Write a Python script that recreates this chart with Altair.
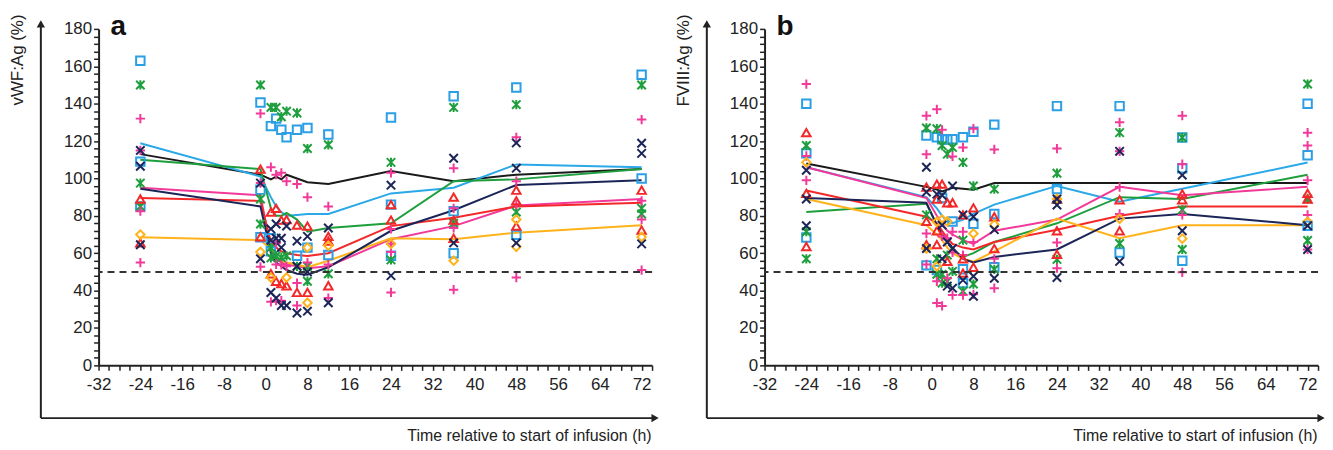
import altair as alt
import pandas as pd

# ---------------- data ----------------
TIMES = [-24, -1, 1, 2, 3, 4, 6, 8, 12, 24, 36, 48, 72]

# panel a: vWF:Ag lines
A_BLACK = [113, 102, 99.5, 101, 99.5, 102, 100, 98, 97, 104, 98.5, 102, 105]
A_CYAN = [118.8, 101, 90, 85, 82, 80, 80.5, 81, 81, 92, 95, 107.5, 106]
A_GREEN = [110, 105, 84, 80, 80, 81.5, 78, 71.5, 73.5, 76, 98.5, 99.5, 105]
A_MAGENTA = [95, 91, 62, 57, 55, 54, 53, 52, 53, 67.5, 74.5, 85.5, 89]
A_RED = [89.5, 88, 66, 63, 61, 60, 59, 58.5, 60, 74.5, 79, 85, 87]
A_ORANGE = [68.5, 67, 62, 58, 56, 55, 54, 52.5, 56, 68, 67.5, 71, 75]
A_NAVY = [94.5, 85, 60, 55, 53, 51, 49, 48.5, 52.5, 72, 83, 96.5, 99]

# panel b: FVIII:Ag lines
B_BLACK = [108, 95.5, 94, 93, 94, 95, 94.5, 94, 97.5, 97.5, 97.5, 97.5, 97.5]
B_CYAN = [106, 90, 84, 80, 77, 76, 78, 81, 86, 96, 87.5, 94.5, 108.5]
B_GREEN = [82, 86.5, 75, 70, 66, 62, 58, 60, 66, 76, 90, 89, 102]
B_MAGENTA = [106, 89.5, 80, 76, 72, 70, 67, 65, 72, 78, 95.5, 91, 95.5]
B_RED = [93.5, 79.5, 76, 72, 68, 65, 63, 62, 66, 72.5, 80, 85, 85]
B_ORANGE = [89, 75, 70, 67, 63, 60, 57, 55.5, 61, 78.5, 68, 75, 75]
B_NAVY = [89.5, 87, 75, 70, 66, 63, 57, 55, 58, 62, 78.5, 81, 75]

# panel a: individual measurements (time h, value %)
A_SQUARE = [(-24, 163), (-24, 109), (-24, 85), (-1, 140.6), (-1, 94), (-1, 68.5),
            (1, 128), (2, 132), (3, 126), (4, 122), (6, 126), (8, 127), (12, 123.5),
            (1, 68), (1, 61), (6, 58.6), (8, 63), (12, 59),
            (24, 132.6), (24, 86), (24, 58.6), (36, 144), (36, 82.5), (36, 60),
            (48, 148.6), (48, 69.8), (72, 155.5), (72, 100)]
A_STAR = [(-24, 150), (-24, 97.5), (-24, 85), (-1, 150), (-1, 89), (-1, 75.6),
          (1, 138), (2, 138), (3, 133), (4, 136), (6, 135), (8, 116), (12, 118),
          (1, 63), (1, 57.5), (2, 58.6), (3, 57.6), (4, 58.6), (6, 53), (8, 53), (8, 45), (12, 49),
          (24, 108.6), (24, 56.4), (36, 138), (36, 76), (48, 139.5), (48, 82),
          (72, 150), (72, 84), (72, 81)]
A_PLUS = [(-24, 132), (-24, 115), (-24, 82.5), (-24, 55), (-1, 134.7), (-1, 97.5), (-1, 52.7),
          (1, 106), (2, 102), (3, 103), (4, 98.5), (6, 97), (8, 90), (12, 85),
          (1, 34), (2, 65.5), (2, 54), (2, 34.6), (3, 53.8), (3, 34.6), (4, 53), (6, 44), (6, 32),
          (8, 55), (12, 54), (12, 36),
          (24, 103), (24, 73), (24, 65), (24, 60.7), (24, 39), (36, 105.5), (36, 84), (36, 73.5),
          (36, 40.5), (48, 122), (48, 98.5), (48, 86), (48, 47), (72, 131.5), (72, 88), (72, 78), (72, 51)]
A_TRIANGLE = [(-24, 89), (-24, 65.5), (-1, 105), (-1, 68.7),
              (1, 82), (1, 49), (2, 84), (2, 45), (3, 77.7), (3, 43.7), (4, 78), (4, 42.6),
              (6, 75), (6, 39), (8, 74.5), (8, 39), (12, 69), (12, 66.5), (12, 42.6),
              (24, 86), (24, 77.7), (36, 90), (36, 77.7), (36, 68), (48, 93.7), (48, 88), (48, 74.5),
              (72, 93.7), (72, 72.4)]
A_DIAMOND = [(-24, 70), (-1, 60.7), (1, 47), (4, 47), (8, 63), (8, 33.5), (12, 64), (24, 65),
             (36, 56), (48, 78), (48, 63.4), (72, 68.7)]
A_X = [(-24, 115), (-24, 106.5), (-24, 64.5), (-1, 97.5), (-1, 57),
       (1, 73), (1, 67), (1, 39), (2, 75.6), (2, 68), (2, 36), (3, 68), (3, 63), (3, 32),
       (4, 74.5), (4, 32), (6, 66.5), (6, 53), (6, 28), (8, 69), (8, 50), (8, 29), (12, 73.5), (12, 33.5),
       (24, 96.4), (24, 48), (36, 110.8), (36, 65.5), (48, 119), (48, 105.5), (48, 65.5),
       (72, 118.8), (72, 113.4), (72, 65)]

# panel b: individual measurements
B_SQUARE = [(-24, 140), (-24, 113.4), (-24, 68.4), (-1, 123), (-1, 53.5),
            (1, 122), (2, 121), (3, 120.8), (4, 121), (6, 122), (8, 125), (12, 128.8),
            (1, 51), (2, 89.5), (4, 77), (6, 51.4), (6, 44), (8, 75.8), (12, 81), (12, 52.5),
            (24, 138.7), (24, 94.3), (36, 138.7), (36, 60.4), (48, 121.9), (48, 105.5), (48, 56),
            (72, 140), (72, 112.4), (72, 74.7)]
B_STAR = [(-24, 117.6), (-24, 71.5), (-24, 57), (-1, 127), (-1, 80.5),
          (1, 126.6), (2, 117.6), (3, 113), (4, 116.6), (6, 108.6), (8, 96),
          (1, 57), (1, 48.7), (2, 48.7), (2, 44), (3, 59), (3, 45), (4, 50.3), (6, 67), (6, 39.7),
          (8, 43.5), (12, 94.3), (12, 51.4),
          (24, 102.8), (24, 56.7), (36, 124.5), (36, 65.2), (48, 121.9), (48, 83.2), (48, 62),
          (72, 150.5), (72, 89), (72, 66.8)]
B_PLUS = [(-24, 150.5), (-24, 112), (-24, 99), (-1, 133.5), (-1, 112.9), (-1, 70.5), (-1, 54),
          (1, 137), (2, 126), (4, 111.8), (6, 116.6), (8, 126.6), (12, 115.5),
          (1, 45), (1, 33.4), (2, 69), (2, 31.8), (3, 68), (3, 46.6), (4, 71.5), (4, 60.4), (4, 37.6),
          (6, 71.5), (6, 59), (6, 37.6), (8, 66), (8, 38), (12, 57), (12, 41.3),
          (24, 116), (24, 65.7), (24, 52), (36, 130), (36, 114.5), (36, 95.4), (36, 81),
          (48, 133.6), (48, 107.6), (48, 80.5), (48, 49.8),
          (72, 124.5), (72, 117.6), (72, 99), (72, 80.5), (72, 62)]
B_TRIANGLE = [(-24, 124.5), (-24, 92), (-24, 63.6), (-1, 95.4), (-1, 77), (-1, 64.6),
              (1, 97), (1, 89), (1, 72), (1, 64.6), (2, 97), (3, 87), (3, 55.6), (4, 87),
              (6, 80.5), (6, 57), (6, 49.3), (8, 84.3), (8, 52.5), (12, 79.5), (12, 62.5),
              (24, 89), (24, 72), (24, 59.4), (36, 88.5), (36, 72), (48, 91.7), (48, 88.5),
              (72, 92), (72, 89)]
B_DIAMOND = [(-24, 108.6), (-1, 62.5), (1, 76.8), (1, 53), (2, 78), (3, 77), (8, 70.5),
             (12, 75.3), (24, 89), (36, 78.4), (48, 67.8), (72, 76.8)]
B_X = [(-24, 104.4), (-24, 89), (-24, 74.7), (-1, 106), (-1, 92.7), (-1, 62.5),
       (1, 91.6), (2, 91), (2, 75), (2, 57), (3, 66), (3, 42.4), (4, 96), (4, 62.5), (4, 41.3),
       (6, 80.5), (6, 45.6), (8, 79.5), (8, 47.7), (8, 37), (12, 72.6), (12, 46.6),
       (24, 89), (24, 85.8), (24, 47), (36, 114.5), (36, 55.6), (48, 101.8), (48, 72),
       (72, 74.7), (72, 62)]

THRESHOLD = [50]
X_DOMAIN = [-32, 74]
Y_DOMAIN = [0, 180]

# ---------------- styles ----------------
LINE_COLORS = {"black": "#1a1a1a", "cyan": "#2AA8E8", "green": "#1E9E3C",
               "magenta": "#F2399A", "red": "#F42828", "orange": "#FFB21A", "navy": "#1C2557"}
SYMBOLS = {
    "square": ("square", "#2A9FE6"),
    "star": ("M-1,-1L1,1M-1,1L1,-1M0,-1.1L0,1.1", "#1E9E3C"),
    "plus": ("M-1.1,0L1.1,0M0,-1.1L0,1.1", "#F2399A"),
    "triangle": ("triangle-up", "#F42828"),
    "diamond": ("diamond", "#FFB21A"),
    "x": ("M-1,-1L1,1M-1,1L1,-1", "#1C2557"),
}
W, H = 556, 338
FONT = "Liberation Sans"
INK = "#222222"


def build_lines(series):
    rows = []
    for name, vals in series.items():
        for t, v in zip(TIMES, vals):
            rows.append({"series": name, "t": t, "v": v, "color": LINE_COLORS[name]})
    return pd.DataFrame(rows)


def build_points(groups):
    rows = []
    for name, pts in groups.items():
        shape, color = SYMBOLS[name]
        for t, v in pts:
            rows.append({"sym": name, "t": t, "v": v, "shape": shape, "color": color})
    return pd.DataFrame(rows)


def panel(letter, ytitle, series, groups):
    xs = alt.Scale(domain=X_DOMAIN, nice=False, zero=False)
    ys = alt.Scale(domain=Y_DOMAIN, nice=False, zero=True)
    xaxis = alt.Axis(values=list(range(-32, 75, 2)),
                     labelExpr="datum.value % 8 === 0 ? '' + datum.value : ''",
                     labelOverlap=False, labelFlush=False, tickSize=5, labelPadding=6,
                     title="Time relative to start of infusion (h)",
                     titleX=W - 1, titleY=70, titleAlign="right", titleBaseline="middle",
                     titleFontSize=16)
    yaxis = alt.Axis(values=list(range(0, 181, 4)),
                     labelExpr="datum.value % 20 === 0 ? '' + datum.value : ''",
                     labelOverlap=False, labelFlush=False, tickSize=5, labelPadding=2,
                     title=ytitle, titleAngle=270, titleAlign="right", titleBaseline="middle",
                     titleX=-81, titleY=-15, titleFontSize=17)
    X = alt.X("t:Q", scale=xs, axis=xaxis)
    Y = alt.Y("v:Q", scale=ys, axis=yaxis)

    lines = alt.Chart(build_lines(series)).mark_line(strokeWidth=2).encode(
        x=X, y=Y, color=alt.Color("color:N", scale=None), detail="series:N")
    points = alt.Chart(build_points(groups)).mark_point(
        filled=False, strokeWidth=2, size=72, opacity=1).encode(
        x=X, y=Y, color=alt.Color("color:N", scale=None), shape=alt.Shape("shape:N", scale=None))
    thr = alt.Chart(pd.DataFrame({"v": THRESHOLD})).mark_rule(
        strokeDash=[7, 5], strokeWidth=2, color="#333333").encode(y=Y)

    one = pd.DataFrame({"k": [0]})
    vline = alt.Chart(one).mark_rule(color=INK, strokeWidth=2).encode(
        x=alt.value(-58), y=alt.value(-4), y2=alt.value(391))
    hline = alt.Chart(one).mark_rule(color=INK, strokeWidth=2).encode(
        x=alt.value(-58), x2=alt.value(558), y=alt.value(391))
    up = alt.Chart(one).mark_point(shape="triangle-up", filled=True, size=70,
                                   color=INK, opacity=1).encode(x=alt.value(-58), y=alt.value(-5))
    right = alt.Chart(one).mark_point(shape="triangle-right", filled=True, size=70,
                                      color=INK, opacity=1).encode(x=alt.value(559), y=alt.value(391))
    lab = alt.Chart(one).mark_text(text=letter, fontSize=28, fontWeight="bold", font=FONT,
                                   align="left", baseline="alphabetic", color="#111111").encode(
        x=alt.value(12), y=alt.value(6))
    return alt.layer(lines, points, thr, vline, hline, up, right, lab).properties(width=W, height=H)


pa = panel("a", "vWF:Ag (%)",
           {"black": A_BLACK, "cyan": A_CYAN, "green": A_GREEN, "magenta": A_MAGENTA,
            "red": A_RED, "orange": A_ORANGE, "navy": A_NAVY},
           {"square": A_SQUARE, "star": A_STAR, "plus": A_PLUS, "triangle": A_TRIANGLE,
            "diamond": A_DIAMOND, "x": A_X})
pb = panel("b", "FVIII:Ag (%)",
           {"black": B_BLACK, "cyan": B_CYAN, "green": B_GREEN, "magenta": B_MAGENTA,
            "red": B_RED, "orange": B_ORANGE, "navy": B_NAVY},
           {"square": B_SQUARE, "star": B_STAR, "plus": B_PLUS, "triangle": B_TRIANGLE,
            "diamond": B_DIAMOND, "x": B_X})

chart = alt.hconcat(pa, pb, spacing=16).properties(
    padding={"left": 1, "top": 4, "right": 0, "bottom": 0}
).configure_view(stroke=None).configure_axis(
    grid=False, domainColor=INK, domainWidth=2, tickColor=INK, tickWidth=1.5,
    labelFont=FONT, labelFontSize=17, labelColor=INK,
    titleFont=FONT, titleColor=INK, titleFontWeight="normal"
)

chart.save("out.html", embed_options={"renderer": "svg", "actions": False})
